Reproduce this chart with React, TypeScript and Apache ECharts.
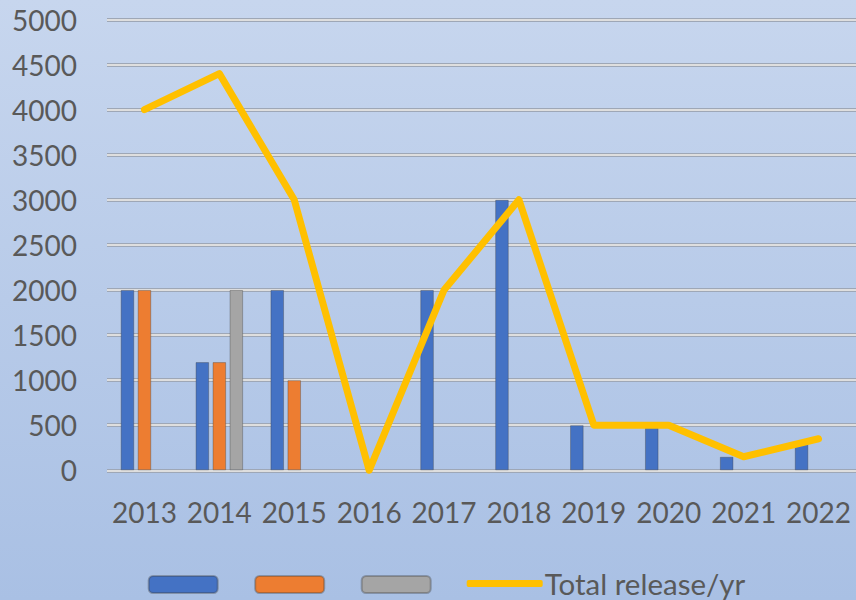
import React, { useEffect, useRef } from "react";
import * as echarts from "echarts";

const years = ["2013", "2014", "2015", "2016", "2017", "2018", "2019", "2020", "2021", "2022"];
const seriesA = [2000, 1200, 2000, null, 2000, 3000, 500, 500, 150, 300];
const seriesB = [2000, 1200, 1000, null, null, null, null, null, null, null];
const seriesC = [null, 2000, null, null, null, null, null, null, null, null];
const totalRelease = [4000, 4400, 3000, 0, 2000, 3000, 500, 500, 150, 350];
const yTicks = { min: 0, max: 5000, interval: 500 };
const barNames = ["Series 1", "Series 2", "Series 3"];
const lineName = "Total release/yr";

const FONT = "Lato, 'Open Sans', sans-serif";
const TEXT = "#595959";

export default function App() {
  const ref = useRef<HTMLDivElement>(null);
  useEffect(() => {
    if (!ref.current) return;
    const chart = echarts.init(ref.current, null, { renderer: "svg" });
    const barCommon = {
      type: "bar",
      barWidth: 13.6,
      barGap: "25%",
    };
    const edge = {
      borderWidth: 1,
      borderColor: "rgba(60,60,60,0.35)",
    };
    chart.setOption({
      animation: false,
      backgroundColor: {
        type: "linear",
        x: 0, y: 0, x2: 0, y2: 1,
        colorStops: [
          { offset: 0, color: "#c7d6ee" },
          { offset: 1, color: "#a9c0e4" },
        ],
      },
      textStyle: { fontFamily: FONT },
      grid: { left: 107, right: 0, top: 19.5, bottom: 129.7, containLabel: false },
      legend: [
        {
          data: barNames,
          left: 147.7,
          top: 575,
          padding: 0,
          itemWidth: 69,
          itemHeight: 17,
          itemGap: 35.5,
          formatter: () => "",
          selectedMode: false,
          textStyle: { fontSize: 1 },
        },
        {
          data: [{ name: lineName, icon: "roundRect" }],
          left: 466.7,
          top: 568.5,
          padding: 0,
          itemWidth: 76,
          itemHeight: 7,
          itemGap: 0,
          selectedMode: false,
          itemStyle: { color: "#ffc000", borderWidth: 0 },
          textStyle: { fontSize: 29.5, lineHeight: 29, color: TEXT, fontFamily: FONT, padding: [0, 0, 0, -3] },
        },
      ],
      xAxis: {
        type: "category",
        data: years,
        axisLine: { show: false },
        axisTick: { show: false },
        axisLabel: { color: TEXT, fontSize: 28, fontFamily: FONT, margin: 28, interval: 0 },
      },
      yAxis: [
        {
          type: "value",
          min: yTicks.min,
          max: yTicks.max,
          interval: yTicks.interval,
          axisLine: { show: false },
          axisTick: { show: false },
          axisLabel: {
            color: TEXT,
            fontSize: 28,
            fontFamily: FONT,
            margin: 30,
            formatter: (v: number) => String(v),
          },
          splitLine: {
            lineStyle: { color: "#9ea7b6", width: 4 },
          },
        },
        {
          type: "value",
          min: yTicks.min,
          max: yTicks.max,
          interval: yTicks.interval,
          position: "left",
          axisLine: { show: false },
          axisTick: { show: false },
          axisLabel: { show: false },
          splitLine: {
            lineStyle: { color: "#dedede", width: 2.2 },
          },
        },
      ],
      series: [
        { ...barCommon, name: barNames[0], data: seriesA, itemStyle: { color: "#4472c4", ...edge } },
        { ...barCommon, name: barNames[1], data: seriesB, itemStyle: { color: "#ed7d31", ...edge } },
        { ...barCommon, name: barNames[2], data: seriesC, itemStyle: { color: "#a5a5a5", ...edge } },
        {
          type: "line",
          name: lineName,
          data: totalRelease,
          symbol: "none",
          lineStyle: { color: "#ffc000", width: 7, cap: "round", join: "round" },
          itemStyle: { color: "#ffc000" },
          z: 5,
        },
      ],
    });
    return () => chart.dispose();
  }, []);
  return (
    <div
      ref={ref}
      style={{ position: "absolute", left: 0, top: 0, width: 856, height: 600 }}
    />
  );
}
